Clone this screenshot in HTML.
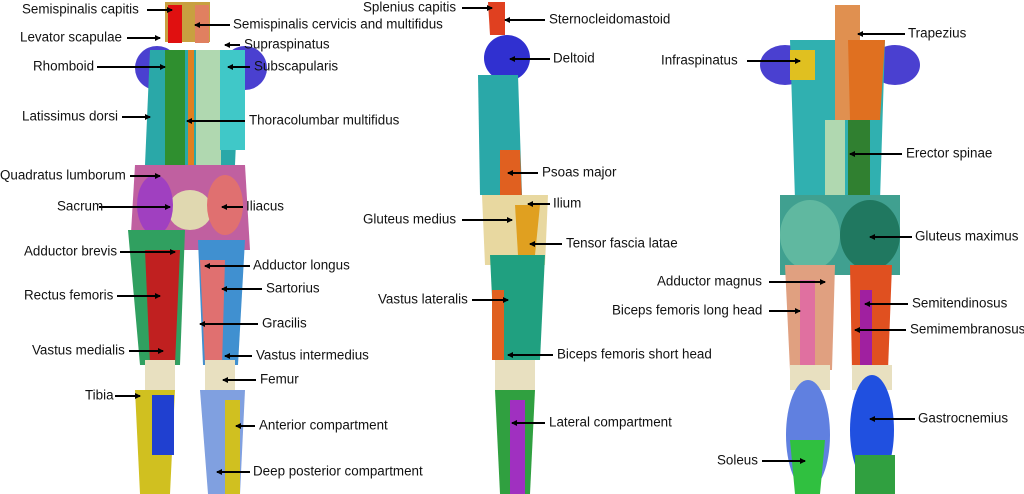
<!DOCTYPE html>
<html><head><meta charset="utf-8"><style>
html,body{margin:0;padding:0;background:#fff;width:1024px;height:494px;overflow:hidden}
svg{display:block}
text{font-family:"Liberation Sans",sans-serif;font-size:13.4px;fill:#111}
</style></head><body>
<svg width="1024" height="494" viewBox="0 0 1024 494">
<defs><marker id="a" markerWidth="6" markerHeight="6" refX="5" refY="3" orient="auto" markerUnits="userSpaceOnUse"><path d="M0,0 L6,3 L0,6z" fill="#000"/></marker></defs>
<g>
<rect x="165" y="2" width="45" height="40" fill="#c8a040"/>
<rect x="168" y="5" width="14" height="38" fill="#e01010"/>
<rect x="195" y="5" width="14" height="38" fill="#e08060"/>
<ellipse cx="157" cy="68" rx="22" ry="22" fill="#4a40d0"/>
<ellipse cx="245" cy="68" rx="22" ry="22" fill="#4a40d0"/>
<path d="M150,50 L240,50 L235,165 L145,165Z" fill="#2aa8a8"/>
<rect x="165" y="50" width="20" height="115" fill="#2f8f2f"/>
<rect x="188" y="50" width="6" height="160" fill="#e08020"/>
<rect x="196" y="50" width="25" height="115" fill="#b0d8b0"/>
<rect x="220" y="50" width="25" height="100" fill="#40c8c8"/>
<path d="M135,165 L245,165 L250,250 L130,250Z" fill="#c060a0"/>
<ellipse cx="190" cy="210" rx="22" ry="20" fill="#e0d8b0"/>
<ellipse cx="155" cy="205" rx="18" ry="30" fill="#a040c0"/>
<ellipse cx="225" cy="205" rx="18" ry="30" fill="#e07070"/>
<path d="M128,230 L185,230 L180,365 L140,365Z" fill="#30a060"/>
<path d="M145,250 L180,250 L175,365 L150,365Z" fill="#c02020"/>
<path d="M198,240 L245,240 L238,365 L203,365Z" fill="#4090d0"/>
<path d="M200,260 L225,260 L222,365 L205,365Z" fill="#e07070"/>
<rect x="145" y="360" width="30" height="30" fill="#e8e0c0"/>
<rect x="205" y="360" width="30" height="30" fill="#e8e0c0"/>
<path d="M135,390 L175,390 L170,494 L140,494Z" fill="#d0c020"/>
<rect x="152" y="395" width="22" height="60" fill="#2040d0"/>
<path d="M200,390 L245,390 L240,494 L208,494Z" fill="#80a0e0"/>
<rect x="225" y="400" width="15" height="94" fill="#d0c020"/>
</g>
<g>
<path d="M488,2 L505,2 L505,35 L490,35Z" fill="#e04020"/>
<circle cx="507" cy="58" r="23" fill="#3030d0"/>
<path d="M478,75 L518,75 L522,195 L480,195Z" fill="#2aa8a8"/>
<path d="M500,150 L520,150 L522,200 L500,200Z" fill="#e06020"/>
<path d="M482,195 L548,195 L545,265 L485,265Z" fill="#e8d8a0"/>
<path d="M515,205 L540,205 L535,255 L518,255Z" fill="#e0a020"/>
<path d="M490,255 L545,255 L540,360 L495,360Z" fill="#20a080"/>
<rect x="492" y="290" width="12" height="70" fill="#e06020"/>
<rect x="495" y="360" width="40" height="30" fill="#e8e0c0"/>
<path d="M495,390 L535,390 L530,494 L500,494Z" fill="#30a040"/>
<rect x="510" y="400" width="15" height="94" fill="#a030c0"/>
</g>
<g>
<ellipse cx="785" cy="65" rx="25" ry="20" fill="#4a40d0"/>
<ellipse cx="895" cy="65" rx="25" ry="20" fill="#4a40d0"/>
<path d="M790,40 L885,40 L880,200 L795,200Z" fill="#30b0b0"/>
<path d="M835,5 L860,5 L860,120 L835,120Z" fill="#e09050"/>
<path d="M848,40 L885,40 L880,120 L850,120Z" fill="#e07020"/>
<path d="M825,120 L845,120 L845,200 L825,200Z" fill="#b0d8b0"/>
<path d="M848,120 L870,120 L870,200 L848,200Z" fill="#308030"/>
<rect x="790" y="50" width="25" height="30" fill="#e0c020"/>
<path d="M780,195 L900,195 L900,275 L780,275Z" fill="#40a090"/>
<ellipse cx="810" cy="235" rx="30" ry="35" fill="#60b8a0"/>
<ellipse cx="870" cy="235" rx="30" ry="35" fill="#207860"/>
<path d="M785,265 L835,265 L832,370 L790,370Z" fill="#e0a080"/>
<rect x="800" y="280" width="15" height="85" fill="#e070a0"/>
<path d="M850,265 L892,265 L888,370 L852,370Z" fill="#e05020"/>
<rect x="860" y="290" width="12" height="75" fill="#a020a0"/>
<rect x="790" y="365" width="40" height="25" fill="#e8e0c0"/>
<rect x="852" y="365" width="40" height="25" fill="#e8e0c0"/>
<ellipse cx="808" cy="435" rx="22" ry="55" fill="#6080e0"/>
<path d="M790,440 L825,440 L820,494 L795,494Z" fill="#30c040"/>
<ellipse cx="872" cy="430" rx="22" ry="55" fill="#2050e0"/>
<rect x="855" y="455" width="40" height="39" fill="#30a040"/>
</g>
<g stroke="#000" stroke-width="2" marker-end="url(#a)">
<line x1="147" y1="10" x2="172" y2="10"/>
<line x1="127" y1="38" x2="160" y2="38"/>
<line x1="97" y1="67" x2="165" y2="67"/>
<line x1="122" y1="117" x2="150" y2="117"/>
<line x1="130" y1="176" x2="160" y2="176"/>
<line x1="99" y1="207" x2="170" y2="207"/>
<line x1="120" y1="252" x2="175" y2="252"/>
<line x1="117" y1="296" x2="160" y2="296"/>
<line x1="129" y1="351" x2="163" y2="351"/>
<line x1="115" y1="396" x2="140" y2="396"/>
<line x1="230" y1="25" x2="195" y2="25"/>
<line x1="240" y1="45" x2="225" y2="45"/>
<line x1="250" y1="67" x2="228" y2="67"/>
<line x1="245" y1="121" x2="187" y2="121"/>
<line x1="243" y1="207" x2="222" y2="207"/>
<line x1="250" y1="266" x2="205" y2="266"/>
<line x1="262" y1="289" x2="222" y2="289"/>
<line x1="258" y1="324" x2="200" y2="324"/>
<line x1="252" y1="356" x2="225" y2="356"/>
<line x1="256" y1="380" x2="223" y2="380"/>
<line x1="255" y1="426" x2="236" y2="426"/>
<line x1="250" y1="472" x2="217" y2="472"/>
<line x1="462" y1="8" x2="492" y2="8"/>
<line x1="545" y1="20" x2="505" y2="20"/>
<line x1="550" y1="59" x2="510" y2="59"/>
<line x1="538" y1="173" x2="508" y2="173"/>
<line x1="550" y1="204" x2="528" y2="204"/>
<line x1="462" y1="220" x2="512" y2="220"/>
<line x1="562" y1="244" x2="530" y2="244"/>
<line x1="472" y1="300" x2="508" y2="300"/>
<line x1="553" y1="355" x2="508" y2="355"/>
<line x1="545" y1="423" x2="512" y2="423"/>
<line x1="905" y1="34" x2="858" y2="34"/>
<line x1="747" y1="61" x2="800" y2="61"/>
<line x1="902" y1="154" x2="850" y2="154"/>
<line x1="912" y1="237" x2="870" y2="237"/>
<line x1="769" y1="282" x2="825" y2="282"/>
<line x1="908" y1="304" x2="865" y2="304"/>
<line x1="769" y1="311" x2="800" y2="311"/>
<line x1="906" y1="330" x2="855" y2="330"/>
<line x1="915" y1="419" x2="870" y2="419"/>
<line x1="762" y1="461" x2="805" y2="461"/>
</g>
<g dominant-baseline="middle">
<text x="22" y="10">Semispinalis capitis</text>
<text x="20" y="38">Levator scapulae</text>
<text x="33" y="67">Rhomboid</text>
<text x="22" y="117">Latissimus dorsi</text>
<text x="0" y="176">Quadratus lumborum</text>
<text x="57" y="207">Sacrum</text>
<text x="24" y="252">Adductor brevis</text>
<text x="24" y="296">Rectus femoris</text>
<text x="32" y="351">Vastus medialis</text>
<text x="85" y="396">Tibia</text>
<text x="233" y="25">Semispinalis cervicis and multifidus</text>
<text x="244" y="45">Supraspinatus</text>
<text x="254" y="67">Subscapularis</text>
<text x="249" y="121">Thoracolumbar multifidus</text>
<text x="246" y="207">Iliacus</text>
<text x="253" y="266">Adductor longus</text>
<text x="266" y="289">Sartorius</text>
<text x="262" y="324">Gracilis</text>
<text x="256" y="356">Vastus intermedius</text>
<text x="260" y="380">Femur</text>
<text x="259" y="426">Anterior compartment</text>
<text x="253" y="472">Deep posterior compartment</text>
<text x="363" y="8">Splenius capitis</text>
<text x="549" y="20">Sternocleidomastoid</text>
<text x="553" y="59">Deltoid</text>
<text x="542" y="173">Psoas major</text>
<text x="553" y="204">Ilium</text>
<text x="363" y="220">Gluteus medius</text>
<text x="566" y="244">Tensor fascia latae</text>
<text x="378" y="300">Vastus lateralis</text>
<text x="557" y="355">Biceps femoris short head</text>
<text x="549" y="423">Lateral compartment</text>
<text x="908" y="34">Trapezius</text>
<text x="661" y="61">Infraspinatus</text>
<text x="906" y="154">Erector spinae</text>
<text x="915" y="237">Gluteus maximus</text>
<text x="657" y="282">Adductor magnus</text>
<text x="912" y="304">Semitendinosus</text>
<text x="612" y="311">Biceps femoris long head</text>
<text x="910" y="330">Semimembranosus</text>
<text x="918" y="419">Gastrocnemius</text>
<text x="717" y="461">Soleus</text>
</g>
</svg>
</body></html>
